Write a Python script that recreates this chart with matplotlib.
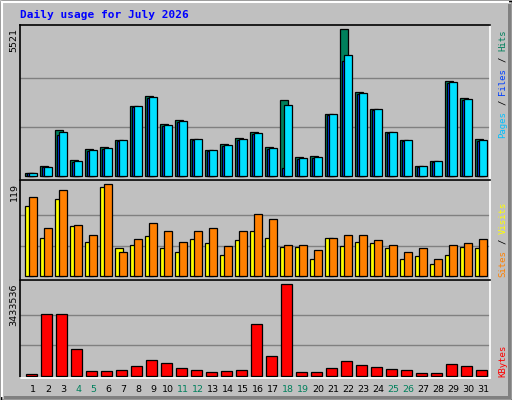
import matplotlib
matplotlib.use("Agg")
import matplotlib.pyplot as plt
from matplotlib.patches import Rectangle
from matplotlib.lines import Line2D
import numpy as np

days = list(range(1, 32))
weekend_days = [4, 5, 11, 12, 18, 19, 25, 26]
hits = [125, 387, 1736, 612, 1024, 1099, 1361, 2635, 3010, 1961, 2111, 1399, 987, 1211, 1436, 1661,
        1099, 2860, 724, 762, 2336, 5521, 3160, 2523, 1661, 1361, 387, 575, 3572, 2935, 1399]
files = [125, 350, 1661, 575, 987, 1062, 1361, 2635, 2973, 1923, 2073, 1399, 987, 1174, 1399, 1624,
         1062, 2673, 687, 724, 2336, 4546, 3122, 2523, 1661, 1361, 387, 575, 3535, 2898, 1361]
pages = [120, 340, 1549, 560, 970, 1050, 1340, 2620, 2950, 1900, 2050, 1380, 970, 1160, 1380, 1600,
         1050, 312, 670, 710, 2320, 4321, 3100, 2500, 1640, 1340, 370, 560, 3500, 2870, 1340]
visits = [91, 49, 100, 65, 45, 115, 36, 41, 52, 36, 32, 48, 43, 28, 47, 58, 50, 38, 38, 23, 49, 39,
          45, 43, 36, 23, 26, 16, 28, 38, 36]
sites = [102, 63, 111, 67, 53, 119, 31, 48, 69, 58, 45, 58, 62, 39, 58, 80, 74, 41, 40, 34, 49, 54,
         53, 47, 40, 31, 36, 23, 40, 43, 48]
kbytes = [63000, 2305704, 2305704, 990000, 163000, 163000, 200000, 351000, 576000, 464000, 276000,
          200000, 125000, 163000, 200000, 1930000, 727000, 3433536, 125000, 125000, 276000, 539000,
          388000, 313000, 238000, 200000, 88000, 88000, 426000, 351000, 200000]
max_hits, max_sites, max_kb = 5521, 119, 3433536

W, H = 512, 400
fig = plt.figure(figsize=(W/100, H/100), dpi=100)
fig.patch.set_facecolor("#c0c0c0")

def px(x0, y0, x1, y1):
    return [x0/W, 1 - y1/H, (x1-x0)/W, (y1-y0)/H]

bg = fig.add_axes([0, 0, 1, 1]); bg.set_xlim(0, W); bg.set_ylim(H, 0); bg.axis("off")
bg.add_patch(Rectangle((0.5, 0.5), W-1, H-1, fill=False, ec="black", lw=1))
bg.add_line(Line2D([1.5, W-4], [1.5, 1.5], color="white", lw=1.5))
bg.add_line(Line2D([1.5, 1.5], [1.5, H-4], color="white", lw=1.5))
bg.add_patch(Rectangle((W-4.5, 4), 3.5, H-5, color="#808080", lw=0))
bg.add_patch(Rectangle((4, H-4.5), W-5, 3.5, color="#808080", lw=0))
bg.text(20, 15, "Daily usage for July 2026", color="#0000ff", fontsize=8, fontweight="bold",
        family="DejaVu Sans Mono", va="center", ha="left")

x = np.array(days, dtype=float)
xl = ((20-25)/15+1, (490-25)/15+1)

def setup(ax, ymax, lo, hi):
    ax.set_facecolor("#c0c0c0")
    ax.set_xlim(*xl); ax.set_ylim(lo, hi)
    ax.set_xticks([]); ax.set_yticks([])
    for s in ("left", "top"):
        ax.spines[s].set_color("black")
    for s in ("right", "bottom"):
        ax.spines[s].set_color("white")
    for sp in ax.spines.values():
        sp.set_linewidth(1.2)
    for f in (1/3, 2/3):
        ax.axhline(ymax*f, color="#808080", lw=1, zorder=0)

w = 7.7/15
ek = dict(edgecolor="black", linewidth=0.9)
ax1 = fig.add_axes(px(20, 25, 490, 180))
setup(ax1, max_hits, -(180-176.5)/147*max_hits, (176.5-25)/147*max_hits)
ax1.bar(x, hits, width=w, align="edge", color="#00805c", **ek, zorder=2)
ax1.bar(x+2/15, pages, width=w, align="edge", color="#0040ff", **ek, zorder=3)
ax1.bar(x+4/15, files, width=w, align="edge", color="#00e0ff", **ek, zorder=4)

ax2 = fig.add_axes(px(20, 180, 490, 280))
setup(ax2, max_sites, -(280-276.3)/92*max_sites, (276.3-180)/92*max_sites)
ax2.bar(x, visits, width=w, align="edge", color="#ffff00", **ek, zorder=2)
ax2.bar(x+4/15, sites, width=w, align="edge", color="#ff8000", **ek, zorder=3)

ax3 = fig.add_axes(px(20, 280, 490, 378))
setup(ax3, max_kb, -(378-375.7)/91.3*max_kb, (375.7-280)/91.3*max_kb)
ax3.bar(x+1/15, kbytes, width=10.7/15, align="edge", color="#ff0000", **ek, zorder=2)

for yy, txt in ((28, str(max_hits)), (183, str(max_sites)), (284, str(max_kb))):
    bg.text(14, yy, txt, rotation=90, rotation_mode="anchor", ha="right", va="center",
            fontsize=6.8, color="black")

for d in days:
    xp = 33 + (d-1)*15
    bg.text(xp, 389, str(d), ha="center", va="center", fontsize=6.8,
            color="#00805c" if d in weekend_days else "black")

CH = 0.602*6.5*100/72  # monospace advance in px
def rlabel(y0, parts):
    pos = 0
    for p, c in parts:
        if p.strip():
            lead = len(p) - len(p.lstrip())
            bg.text(503, y0 - (pos+lead)*CH, p.strip(), rotation=90, rotation_mode="anchor",
                    ha="left", va="center", fontsize=6.5, family="DejaVu Sans Mono", color=c)
        pos += len(p)

rlabel(138, [("Pages", "#00c0ff"), (" / ", "black"), ("Files", "#0040ff"),
             (" / ", "black"), ("Hits", "#00805c")])
rlabel(277, [("Sites", "#ff8000"), (" / ", "black"), ("Visits", "#ffff00")])
rlabel(377, [("KBytes", "#ff0000")])

fig.savefig("out.png", dpi=100, facecolor=fig.get_facecolor())
